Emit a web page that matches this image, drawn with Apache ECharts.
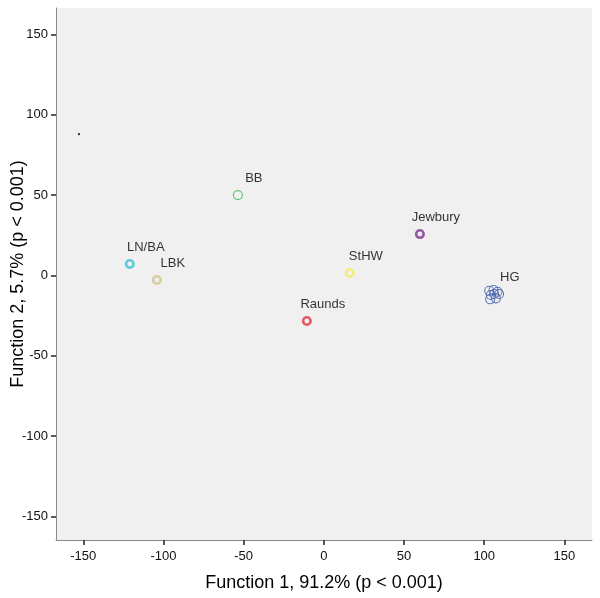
<!DOCTYPE html>
<html>
<head>
<meta charset="utf-8">
<script src="https://cdn.jsdelivr.net/npm/echarts@6/dist/echarts.min.js"></script>
<style>html,body{margin:0;padding:0;background:#fff}#c{width:600px;height:598px}</style>
</head>
<body>
<div id="c"></div>
<script>
// Tick labels
const xTicks = [-150, -100, -50, 0, 50, 100, 150];
const yTicks = [-150, -100, -50, 0, 50, 100, 150];
// Group names
const groups = ['LN/BA', 'LBK', 'BB', 'Raunds', 'StHW', 'Jewbury', 'HG'];
// Points (Function 1, Function 2) per group
const lnba = [[-121, 7.2]];
const lbk = [[-104.1, -2.8]];
const bb = [[-53.6, 50.1]];
const raunds = [[-10.6, -28.3]];
const sthw = [[16.2, 1.6]];
const jewbury = [[59.9, 25.8]];
const hg = [[103.1, -9.5], [105.8, -9.0], [108.3, -10.1], [104.1, -12.1], [106.2, -11.5], [109.3, -11.5], [103.7, -14.8], [107.3, -14.2]];
const stray = [[-152.7, 88]];

const groupData = [lnba, lbk, bb, raunds, sthw, jewbury, hg];
const colors = ['#3cc0cc', '#d2c68c', '#45b85a', '#e2333e', '#f3ee62', '#7b3589', '#3d5ca8'];
const thick = [2.6, 2.6, 1.2, 2.6, 2.6, 2.6, 1.1];

function centroid(arr) {
  let sx = 0, sy = 0;
  arr.forEach(p => { sx += p[0]; sy += p[1]; });
  return [sx / arr.length, sy / arr.length];
}

const series = groupData.map((d, i) => ({
  type: 'scatter',
  name: groups[i],
  data: d,
  symbol: 'circle',
  symbolSize: thick[i] > 2 ? 7.5 : 9,
  itemStyle: { color: 'transparent', borderColor: colors[i], borderWidth: thick[i] },
  silent: true
}));
series.push({
  type: 'scatter', data: stray, symbol: 'rect', symbolSize: 2,
  itemStyle: { color: '#000' }, silent: true
});
series.push({
  type: 'scatter',
  data: groupData.map((d, i) => ({ value: centroid(d), name: groups[i] })),
  symbolSize: 0,
  label: {
    show: true, position: 'inside', offset: [16, -17],
    formatter: p => p.name, color: '#000', fontSize: 13,
    fontFamily: 'Liberation Sans, Arial, sans-serif'
  },
  silent: true
});

const axisCommon = {
  type: 'value',
  splitLine: { show: false },
  axisLine: { show: true, onZero: false, lineStyle: { color: '#8a8a8a', width: 1 } },
  axisTick: { show: true, length: 5, lineStyle: { color: '#222', width: 1.5 } },
  axisLabel: { color: '#111', fontSize: 13, fontFamily: 'Liberation Sans, Arial, sans-serif' },
  nameLocation: 'middle',
  nameMoveOverlap: false,
  nameTextStyle: { color: '#000', fontSize: 18, fontFamily: 'Liberation Sans, Arial, sans-serif' }
};

const chart = echarts.init(document.getElementById('c'), null, { renderer: 'canvas' });
chart.setOption({
  animation: false,
  backgroundColor: '#fff',
  grid: { left: 56, right: 8, top: 8, bottom: 58, show: true, backgroundColor: '#f0f0f0', borderWidth: 0, outerBoundsMode: 'none', containLabel: false },
  xAxis: Object.assign({}, axisCommon, {
    min: -167, max: 167.2,
    name: 'Function 1, 91.2% (p < 0.001)', nameGap: 34,
    axisTick: Object.assign({}, axisCommon.axisTick, { customValues: xTicks }),
    axisLabel: Object.assign({}, axisCommon.axisLabel, { customValues: xTicks, margin: 10 })
  }),
  yAxis: Object.assign({}, axisCommon, {
    min: -164.6, max: 166.5,
    name: 'Function 2, 5.7% (p < 0.001)', nameGap: 29,
    axisTick: Object.assign({}, axisCommon.axisTick, { customValues: yTicks }),
    axisLabel: Object.assign({}, axisCommon.axisLabel, { customValues: yTicks, margin: 8 })
  }),
  series: series
});
</script>
</body>
</html>
